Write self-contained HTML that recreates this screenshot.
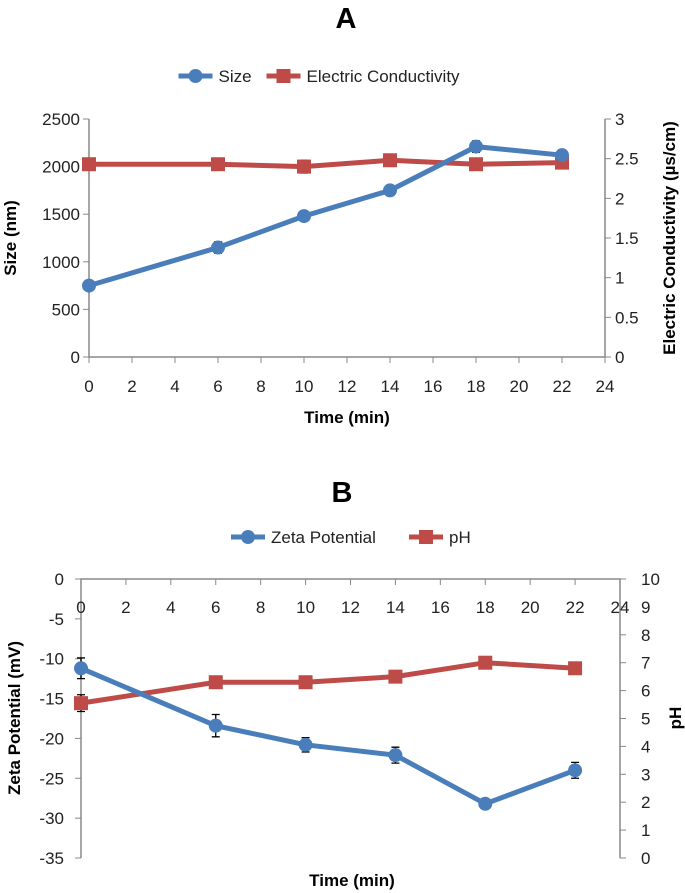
<!DOCTYPE html>
<html><head><meta charset="utf-8"><style>
body{margin:0;background:#fff;}
svg{display:block;font-family:"Liberation Sans",sans-serif;}
.t{font-size:17px;fill:#222}
.b{font-weight:bold;fill:#000}
</style></head><body>
<svg id="s" width="685" height="893"></svg>
<script>
const timesA=[0,6,10,14,18,22];
const sizeVals=[750,1150,1480,1750,2210,2120];
const sizeErr=[30,60,40,30,60,30];
const ecVals=[2.43,2.43,2.40,2.48,2.43,2.45];
const ecErr=[0.03,0.03,0.08,0.07,0.07,0.04];
const timesB=[0,6,10,14,18,22];
const zetaVals=[-11.2,-18.4,-20.8,-22.1,-28.2,-24.0];
const zetaErr=[1.3,1.4,0.9,1.0,0.6,1.0];
const phVals=[5.55,6.3,6.3,6.5,7.0,6.8];
const phErr=[0.3,0.2,0.1,0.1,0.2,0.2];
const xTicks=[0,2,4,6,8,10,12,14,16,18,20,22,24];
const sizeTicks=[0,500,1000,1500,2000,2500];
const ecTicks=[0,0.5,1,1.5,2,2.5,3];
const zetaTicks=[0,-5,-10,-15,-20,-25,-30,-35];
const phTicks=[0,1,2,3,4,5,6,7,8,9,10];
const BLUE="#4a7ebb",RED="#be4b48",GR="#888";
const S=document.getElementById('s');
function el(t,a,txt){const e=document.createElementNS('http://www.w3.org/2000/svg',t);for(const k in a)e.setAttribute(k,a[k]);if(txt!==undefined)e.textContent=txt;S.appendChild(e);return e;}
function lin(d0,d1,r0,r1){return v=>r0+(v-d0)/(d1-d0)*(r1-r0);}
function series(xs,ys,errs,X,Y,color,shape,name){
  let d=xs.map((x,i)=>(i?'L':'M')+X(x)+' '+Y(ys[i])).join(' ');
  const p=el('path',{d:d,stroke:color,'stroke-width':5,fill:'none'});
  
  xs.forEach((x,i)=>{
    const cx=X(x),t=Y(ys[i]+errs[i]),b=Y(ys[i]-errs[i]);
    const e=el('path',{d:`M${cx} ${t}V${b}M${cx-4} ${t}H${cx+4}M${cx-4} ${b}H${cx+4}`,stroke:'#000','stroke-width':1.3,fill:'none'});
    
    let m;
    if(shape==='c')m=el('circle',{cx:cx,cy:Y(ys[i]),r:7,fill:color});
    else m=el('rect',{x:cx-7,y:Y(ys[i])-7,width:14,height:14,fill:color});
    
  });
}
function legend(y,cx,n1,n2,name){
  const w1=n1.length*9+42;
  const x0=cx-(w1+n2.length*9+52)/2;
  el('line',{x1:x0,y1:y,x2:x0+34,y2:y,stroke:BLUE,'stroke-width':5});
  el('circle',{cx:x0+17,cy:y,r:7,fill:BLUE});
  el('text',{x:x0+40,y:y+6,class:'t'},n1);
  const x1=x0+w1+10;
  el('line',{x1:x1,y1:y,x2:x1+34,y2:y,stroke:RED,'stroke-width':5});
  el('rect',{x:x1+10,y:y-7,width:14,height:14,fill:RED});
  el('text',{x:x1+40,y:y+6,class:'t'},n2);
}
// Chart A
{
  const X=lin(0,24,89,605),Y=lin(0,2500,357,119),Y2=lin(0,3,357,119);
  el('text',{x:346,y:28,'text-anchor':'middle','font-size':29,class:'b'},'A');
  legend(76,338,'Size','Electric Conductivity','chart-a');
  el('path',{d:`M89 119V357H605V119`,stroke:GR,fill:'none','stroke-width':1.5});
  sizeTicks.forEach(v=>{el('line',{x1:83,x2:89,y1:Y(v),y2:Y(v),stroke:GR});el('text',{x:80,y:Y(v)+6,'text-anchor':'end',class:'t'},v);});
  ecTicks.forEach(v=>{el('line',{x1:605,x2:611,y1:Y2(v),y2:Y2(v),stroke:GR});el('text',{x:615,y:Y2(v)+6,class:'t'},v);});
  xTicks.forEach(v=>{el('line',{x1:X(v),x2:X(v),y1:357,y2:363,stroke:GR});el('text',{x:X(v),y:392,'text-anchor':'middle',class:'t'},v);});
  el('text',{x:347,y:423,'text-anchor':'middle','font-size':17,class:'b'},'Time (min)');
  el('text',{transform:'translate(16,238) rotate(-90)','text-anchor':'middle','font-size':17,class:'b'},'Size (nm)');
  el('text',{transform:'translate(675,238) rotate(-90)','text-anchor':'middle','font-size':17,class:'b'},'Electric Conductivity (µs/cm)');
  series(timesA,ecVals,ecErr,X,Y2,RED,'s','conductivity');
  series(timesA,sizeVals,sizeErr,X,Y,BLUE,'c','size');
}
// Chart B
{
  const X=lin(0,24,81,620),Y=lin(0,-35,579,858),Y2=lin(0,10,858,579);
  el('text',{x:342,y:502,'text-anchor':'middle','font-size':29,class:'b'},'B');
  legend(537,350,'Zeta Potential','pH','chart-b');
  el('path',{d:`M81 858V579H620V858`,stroke:GR,fill:'none','stroke-width':1.5});
  zetaTicks.forEach(v=>{el('line',{x1:75,x2:81,y1:Y(v),y2:Y(v),stroke:GR});el('text',{x:64,y:Y(v)+6,'text-anchor':'end',class:'t'},v);});
  phTicks.forEach(v=>{el('line',{x1:620,x2:626,y1:Y2(v),y2:Y2(v),stroke:GR});el('text',{x:641,y:Y2(v)+6,class:'t'},v);});
  xTicks.forEach(v=>{el('line',{x1:X(v),x2:X(v),y1:579,y2:585,stroke:GR});el('text',{x:X(v),y:613,'text-anchor':'middle',class:'t'},v);});
  el('text',{x:352,y:886,'text-anchor':'middle','font-size':17,class:'b'},'Time (min)');
  el('text',{transform:'translate(20,718) rotate(-90)','text-anchor':'middle','font-size':17,class:'b'},'Zeta Potential (mV)');
  el('text',{transform:'translate(681,718) rotate(-90)','text-anchor':'middle','font-size':17,class:'b'},'pH');
  series(timesB,phVals,phErr,X,Y2,RED,'s','ph');
  series(timesB,zetaVals,zetaErr,X,Y,BLUE,'c','zeta');
}
</script>
</body></html>
